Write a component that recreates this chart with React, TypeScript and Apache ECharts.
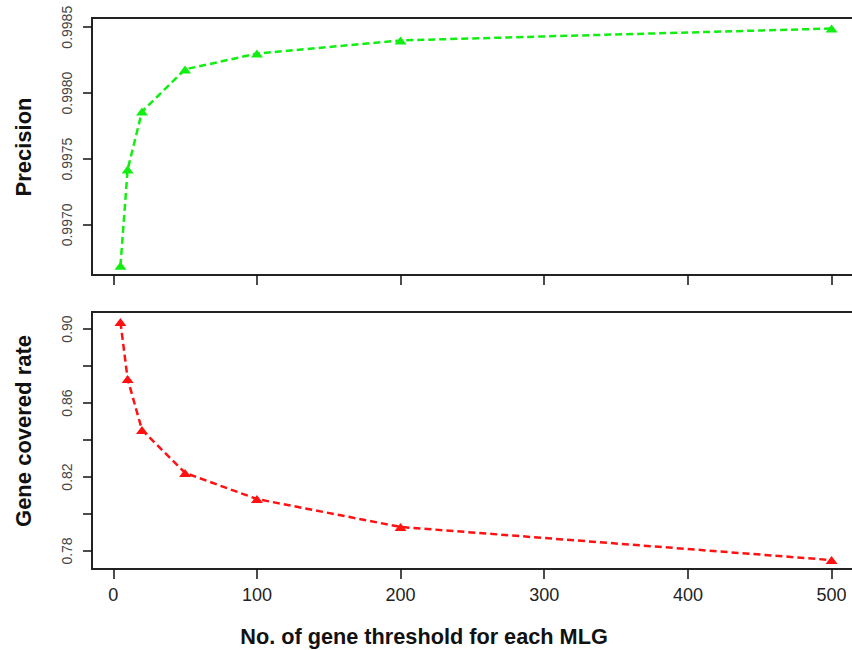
import React, { useEffect, useRef } from "react";
import * as echarts from "echarts";

const thresholds = [5, 10, 20, 50, 100, 200, 500];
const precision = [0.99669, 0.99742, 0.99786, 0.99818, 0.9983, 0.9984, 0.99849];
const coverage = [0.9038, 0.873, 0.8454, 0.8222, 0.8081, 0.793, 0.7751];

const xTicks = [0, 100, 200, 300, 400, 500];
const precisionTicks = [0.997, 0.9975, 0.998, 0.9985];
const coverageTicks = [0.78, 0.8, 0.82, 0.84, 0.86, 0.88, 0.9];
const coverageLabels = [0.78, 0.82, 0.86, 0.9];

const xRange = [-14.8, 519.8];
const precisionRange = [0.99662, 0.99857];
const coverageRange = [0.77027, 0.90919];

const FONT = "Liberation Sans, Arial, Helvetica, sans-serif";

export default function App() {
  const ref = useRef<HTMLDivElement>(null);
  useEffect(() => {
    if (!ref.current) return;
    const chart = echarts.init(ref.current, null, { renderer: "svg" });
    const tickStyle = { color: "#111", width: 1.5 };
    const yLabel = {
      rotate: 90,
      margin: 18,
      fontSize: 14,
      color: "#444",
      fontFamily: FONT,
    };
    const gridBase = {
      left: 92,
      width: 768,
      height: 257,
      show: true,
      borderColor: "#222",
      borderWidth: 2,
      containLabel: false,
      outerBoundsMode: "none",
    };
    const hiddenLine = { show: false, onZero: false };
    chart.setOption({
      animation: false,
      backgroundColor: "#ffffff",
      grid: [
        { ...gridBase, top: 18 },
        { ...gridBase, top: 312 },
      ],
      xAxis: [
        {
          type: "value",
          gridIndex: 0,
          min: xRange[0],
          max: xRange[1],
          axisLine: hiddenLine,
          splitLine: { show: false },
          axisTick: { show: true, length: 10, lineStyle: tickStyle, customValues: xTicks },
          axisLabel: { show: false },
        },
        {
          type: "value",
          gridIndex: 1,
          min: xRange[0],
          max: xRange[1],
          axisLine: hiddenLine,
          splitLine: { show: false },
          axisTick: { show: true, length: 10, lineStyle: tickStyle, customValues: xTicks },
          axisLabel: {
            show: true,
            customValues: xTicks,
            margin: 17,
            fontSize: 18,
            color: "#222",
            fontFamily: FONT,
          },
        },
      ],
      yAxis: [
        {
          type: "value",
          gridIndex: 0,
          min: precisionRange[0],
          max: precisionRange[1],
          axisLine: hiddenLine,
          splitLine: { show: false },
          axisTick: { show: true, length: 9, lineStyle: tickStyle, customValues: precisionTicks },
          axisLabel: {
            ...yLabel,
            customValues: precisionTicks,
            formatter: (v: number) => v.toFixed(4),
          },
        },
        {
          type: "value",
          gridIndex: 1,
          min: coverageRange[0],
          max: coverageRange[1],
          axisLine: hiddenLine,
          splitLine: { show: false },
          axisTick: { show: true, length: 9, lineStyle: tickStyle, customValues: coverageTicks },
          axisLabel: {
            ...yLabel,
            customValues: coverageLabels,
            formatter: (v: number) => v.toFixed(2),
          },
        },
      ],
      series: [
        {
          type: "line",
          xAxisIndex: 0,
          yAxisIndex: 0,
          data: thresholds.map((x, i) => [x, precision[i]]),
          symbol: "triangle",
          symbolSize: [12, 8],
          itemStyle: { color: "#11ee11" },
          lineStyle: { color: "#11ee11", width: 2.5, type: [7, 4] },
        },
        {
          type: "line",
          xAxisIndex: 1,
          yAxisIndex: 1,
          data: thresholds.map((x, i) => [x, coverage[i]]),
          symbol: "triangle",
          symbolSize: [12, 8],
          itemStyle: { color: "#ff1111" },
          lineStyle: { color: "#ff1111", width: 2.5, type: [7, 4] },
        },
      ],
      graphic: [
        {
          type: "text",
          x: 23,
          y: 147,
          rotation: Math.PI / 2,
          style: {
            text: "Precision",
            font: `bold 22px ${FONT}`,
            fill: "#111",
            textAlign: "center",
            textVerticalAlign: "middle",
          },
        },
        {
          type: "text",
          x: 23,
          y: 431,
          rotation: Math.PI / 2,
          style: {
            text: "Gene covered rate",
            font: `bold 22px ${FONT}`,
            fill: "#111",
            textAlign: "center",
            textVerticalAlign: "middle",
          },
        },
        {
          type: "text",
          x: 424,
          y: 636,
          style: {
            text: "No. of gene threshold for each MLG",
            font: `bold 21.7px ${FONT}`,
            fill: "#111",
            textAlign: "center",
            textVerticalAlign: "middle",
          },
        },
      ],
    });
    return () => chart.dispose();
  }, []);
  return (
    <div
      ref={ref}
      style={{ position: "absolute", left: 0, top: 0, width: 852, height: 650 }}
    />
  );
}
